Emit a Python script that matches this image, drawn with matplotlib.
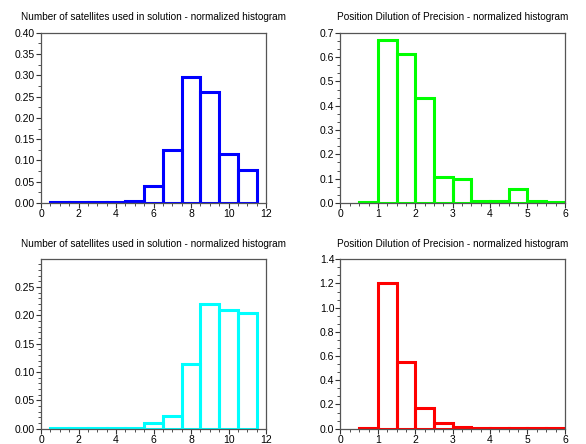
import matplotlib
matplotlib.use('Agg')
import matplotlib.pyplot as plt
from matplotlib.ticker import MultipleLocator, AutoMinorLocator, FixedLocator

# Number of satellites (bins centred on 1..11, width 1)
sat_bins = [1, 2, 3, 4, 5, 6, 7, 8, 9, 10, 11]
sat_top = [0.001, 0.001, 0.003, 0.001, 0.005, 0.040, 0.125, 0.297, 0.262, 0.115, 0.078]
sat_bottom = [0.001, 0.001, 0.001, 0.001, 0.002, 0.010, 0.022, 0.114, 0.220, 0.209, 0.204]

# PDOP (bins of width 0.5, left edges 0.5..5.5)
pdop_edges = [0.5, 1.0, 1.5, 2.0, 2.5, 3.0, 3.5, 4.0, 4.5, 5.0, 5.5]
pdop_top = [0.003, 0.670, 0.612, 0.432, 0.105, 0.097, 0.008, 0.008, 0.057, 0.008, 0.002]
pdop_bottom = [0.005, 1.200, 0.550, 0.170, 0.050, 0.010, 0.003, 0.003, 0.003, 0.003, 0.003]

sat_title = 'Number of satellites used in solution - normalized histogram'
pdop_title = 'Position Dilution of Precision - normalized histogram'

fig = plt.figure(figsize=(5.86, 4.44), dpi=100)
plt.rcParams['font.family'] = ['Liberation Sans', 'DejaVu Sans']

axes_pos = {'tl': [0.070, 0.543, 0.384, 0.383],
            'tr': [0.581, 0.543, 0.383, 0.383],
            'bl': [0.070, 0.0345, 0.384, 0.3815],
            'br': [0.581, 0.0345, 0.383, 0.3815]}


def style(ax, xmax, xmajor, xminor, ymax, ymajor, yminor, yfmt, ylast=None):
    ax.xaxis.set_major_locator(MultipleLocator(xmajor))
    ax.xaxis.set_minor_locator(AutoMinorLocator(xminor))
    if ylast is not None:
        n = int(round(ylast / ymajor))
        ax.yaxis.set_major_locator(FixedLocator([i * ymajor for i in range(n + 1)]))
        step = ymajor / yminor
        ax.yaxis.set_minor_locator(FixedLocator([i * step for i in range(int(ymax / step) + 1)]))
    else:
        ax.yaxis.set_major_locator(MultipleLocator(ymajor))
        ax.yaxis.set_minor_locator(AutoMinorLocator(yminor))
    ax.set_xlim(0, xmax)
    ax.set_ylim(0, ymax)
    ax.yaxis.set_major_formatter(plt.FuncFormatter(lambda v, p: yfmt % v))
    for s in ax.spines.values():
        s.set_color('#555555')
        s.set_linewidth(0.9)
    ax.tick_params(which='both', direction='out', colors='#333333', labelsize=7.5,
                   labelcolor='black', top=False, right=False, pad=1)
    ax.tick_params(which='major', length=3.5)
    ax.tick_params(which='minor', length=2)


ax = fig.add_axes(axes_pos['tl'])
ax.bar(sat_bins, sat_top, width=1.0, fill=False, edgecolor='#0000ff', linewidth=2.2)
style(ax, 12, 2, 4, 0.40, 0.05, 2, '%.2f')
ax.set_title(sat_title, fontsize=7.2, pad=9)

ax = fig.add_axes(axes_pos['tr'])
ax.bar(pdop_edges, pdop_top, width=0.5, align='edge', fill=False, edgecolor='#00ff00', linewidth=2.2)
style(ax, 6, 1, 4, 0.7, 0.1, 3, '%.1f')
ax.set_title(pdop_title, fontsize=7.2, pad=9)

ax = fig.add_axes(axes_pos['bl'])
ax.bar(sat_bins, sat_bottom, width=1.0, fill=False, edgecolor='#00ffff', linewidth=2.2)
style(ax, 12, 2, 4, 0.299, 0.05, 5, '%.2f', ylast=0.25)
ax.set_title(sat_title, fontsize=7.2, pad=9)

ax = fig.add_axes(axes_pos['br'])
ax.bar(pdop_edges, pdop_bottom, width=0.5, align='edge', fill=False, edgecolor='#ff0000', linewidth=2.2)
style(ax, 6, 1, 4, 1.4, 0.2, 3, '%.1f')
ax.set_title(pdop_title, fontsize=7.2, pad=9)

fig.savefig('out.png', dpi=100)
